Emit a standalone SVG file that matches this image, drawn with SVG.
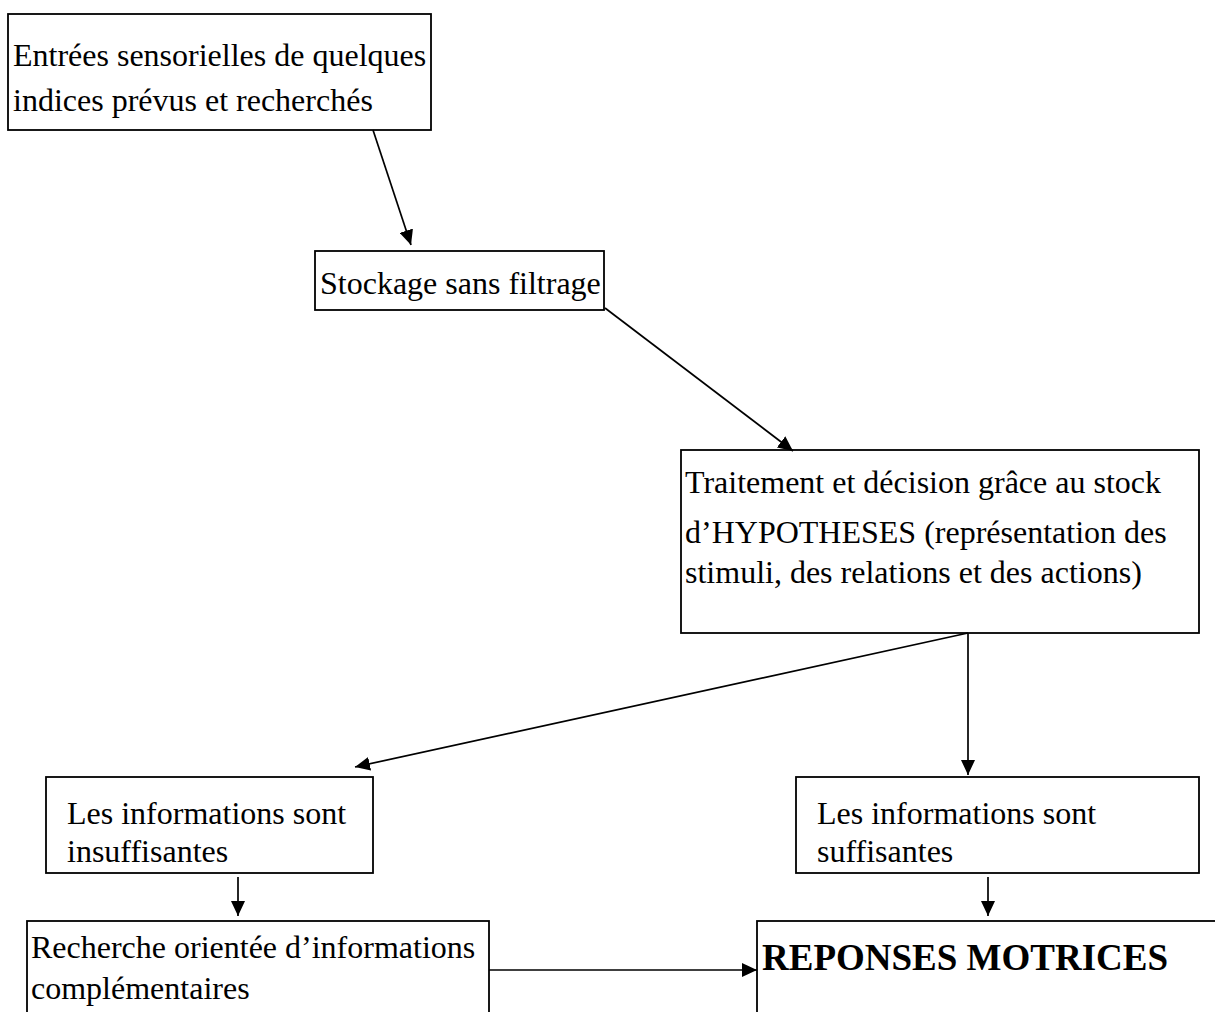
<svg xmlns="http://www.w3.org/2000/svg" width="1215" height="1012" viewBox="0 0 1215 1012">
<style>
.box{fill:#fff;stroke:#000;stroke-width:1.8}
.t{font-family:"Liberation Serif","Times New Roman",serif;font-size:32px;fill:#000}
.b{font-family:"Liberation Serif","Times New Roman",serif;font-size:37px;font-weight:bold;fill:#000}
.c{stroke:#000;stroke-width:1.7;fill:none;marker-end:url(#ah)}
</style>
<defs>
<marker id="ah" markerUnits="userSpaceOnUse" markerWidth="16" markerHeight="14" refX="15" refY="7" orient="auto">
<path d="M0,0 L15,7 L0,14 z" fill="#000"/>
</marker>
</defs>
<rect width="1215" height="1012" fill="#fff"/>
<g id="n1">
<rect class="box" x="8" y="14" width="423" height="116"/>
<text class="t" x="13" y="66">Entrées sensorielles de quelques</text>
<text class="t" x="13" y="111">indices prévus et recherchés</text>
</g>
<g id="n2">
<rect class="box" x="315" y="251" width="289" height="59"/>
<text class="t" x="320" y="294">Stockage sans filtrage</text>
</g>
<g id="n3">
<rect class="box" x="681" y="450" width="518" height="183"/>
<text class="t" x="685" y="493">Traitement et décision grâce au stock</text>
<text class="t" x="685" y="543">d’HYPOTHESES (représentation des</text>
<text class="t" x="685" y="583">stimuli, des relations et des actions)</text>
</g>
<g id="n4">
<rect class="box" x="46" y="777" width="327" height="96"/>
<text class="t" x="67" y="824">Les informations sont</text>
<text class="t" x="67" y="862">insuffisantes</text>
</g>
<g id="n5">
<rect class="box" x="796" y="777" width="403" height="96"/>
<text class="t" x="817" y="824">Les informations sont</text>
<text class="t" x="817" y="862">suffisantes</text>
</g>
<g id="n6">
<rect class="box" x="27" y="921" width="462" height="200"/>
<text class="t" x="31" y="958">Recherche orientée d’informations</text>
<text class="t" x="31" y="999">complémentaires</text>
</g>
<g id="n7">
<rect class="box" x="757" y="921" width="500" height="200"/>
<text class="b" x="762" y="970">REPONSES MOTRICES</text>
</g>
<g id="connectors">
<line class="c" x1="373" y1="130" x2="411" y2="245"/>
<line class="c" x1="605" y1="308" x2="793" y2="451"/>
<line class="c" x1="968" y1="633" x2="355" y2="767"/>
<line class="c" x1="968" y1="633" x2="968" y2="775"/>
<line class="c" x1="238" y1="877" x2="238" y2="916"/>
<line class="c" x1="988" y1="877" x2="988" y2="916"/>
<line class="c" x1="489" y1="970" x2="757" y2="970"/>
</g>
</svg>
